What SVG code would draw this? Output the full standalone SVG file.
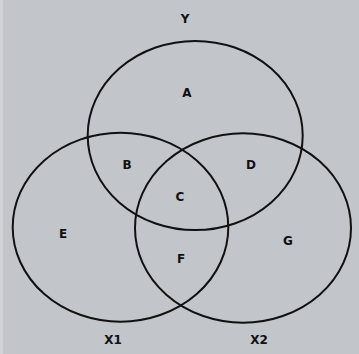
<svg xmlns="http://www.w3.org/2000/svg" width="359" height="354" viewBox="0 0 359 354">
<style>
.set{fill:none;stroke:#111;stroke-width:2}
.lbl{font-family:"DejaVu Sans","Liberation Sans",sans-serif;font-size:12px;font-weight:bold;fill:#111;text-anchor:middle}
</style>
<rect x="0" y="0" width="359" height="354" fill="#c2c5ca"/>
<rect x="0" y="0" width="3" height="354" fill="#d0d2d6"/>
<g id="sets">
<g id="setY"><ellipse class="set" cx="195.2" cy="135.5" rx="107.5" ry="94.6"/></g>
<g id="setX1"><ellipse class="set" cx="120.5" cy="227.2" rx="107.8" ry="94.5"/></g>
<g id="setX2"><ellipse class="set" cx="243" cy="228" rx="108" ry="94.7"/></g>
</g>
<g id="labels">
<text class="lbl" x="185" y="23">Y</text>
<text class="lbl" x="187" y="97">A</text>
<text class="lbl" x="127" y="169">B</text>
<text class="lbl" x="251" y="169">D</text>
<text class="lbl" x="180" y="201">C</text>
<text class="lbl" x="63" y="238">E</text>
<text class="lbl" x="288" y="245">G</text>
<text class="lbl" x="181" y="263">F</text>
<text class="lbl" x="113" y="344">X1</text>
<text class="lbl" x="259" y="344">X2</text>
</g>
</svg>
